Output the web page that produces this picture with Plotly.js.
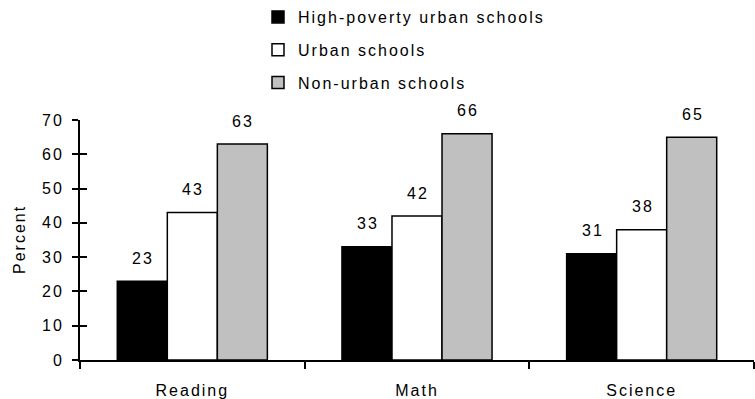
<!DOCTYPE html>
<html>
<head>
<meta charset="utf-8">
<script src="https://cdn.plot.ly/plotly-3.0.1.min.js"></script>
<style>
  html, body { margin: 0; padding: 0; background: #fff; }
  #chart { width: 755px; height: 399px; }
  svg text { letter-spacing: 2px; }
</style>
</head>
<body>
<div id="chart"></div>
<script>
// ---- Data ----
const categories = ['Reading', 'Math', 'Science'];
const seriesNames = ['High-poverty urban schools', 'Urban schools', 'Non-urban schools'];
const highPovertyUrban = [23, 33, 31];
const urban = [43, 42, 38];
const nonUrban = [63, 66, 65];
const yTicks = [0, 10, 20, 30, 40, 50, 60, 70];
const yTitle = 'Percent';

// ---- Styles ----
const FONT = 'Arial, "Liberation Sans", sans-serif';
const FS = 16;
const fills = ['#000000', '#ffffff', '#c0c0c0'];
const seriesValues = [highPovertyUrban, urban, nonUrban];
const labelShift = [-50, 0, 50];

const traces = seriesValues.map((vals, i) => ({
  type: 'bar',
  name: seriesNames[i],
  x: categories,
  y: vals,
  legendgroup: 'g' + i,
  marker: { color: fills[i], line: { color: '#000', width: 1.5 } },
  hoverinfo: 'skip'
}));

const annotations = [];
seriesValues.forEach((vals, i) => {
  vals.forEach((v, j) => {
    annotations.push({
      x: categories[j], y: v, xref: 'x', yref: 'y',
      text: String(v), showarrow: false,
      xshift: labelShift[i] + 1, yshift: 23, yanchor: 'middle',
      font: { family: FONT, size: FS, color: '#000' }
    });
  });
});
// y-axis title drawn as rotated text left of the tick labels
annotations.push({
  x: (19 - 80) / 674, y: 0.5, xref: 'paper', yref: 'paper',
  text: yTitle, showarrow: false, textangle: -90,
  xanchor: 'center', yanchor: 'middle',
  font: { family: FONT, size: FS, color: '#000' }
});

const layout = {
  width: 755, height: 399,
  margin: { l: 80, r: 1, t: 120, b: 39, autoexpand: false },
  paper_bgcolor: '#fff', plot_bgcolor: '#fff',
  font: { family: FONT, size: FS, color: '#000' },
  barmode: 'group',
  bargap: 0.332,
  bargroupgap: 0,
  showlegend: true,
  legend: {
    x: 258 / 755, xref: 'container', xanchor: 'left',
    y: 1, yref: 'container', yanchor: 'top',
    orientation: 'v', traceorder: 'grouped',
    tracegroupgap: 9,
    font: { family: FONT, size: FS, color: '#000' },
    bgcolor: 'rgba(0,0,0,0)'
  },
  xaxis: {
    type: 'category',
    showgrid: false, zeroline: false,
    showline: true, linecolor: '#000', linewidth: 2,
    ticks: 'outside', tickson: 'boundaries', ticklen: 7, tickwidth: 2, tickcolor: '#000',
    ticklabelstandoff: 15,
    tickfont: { family: FONT, size: FS, color: '#000' },
    fixedrange: true
  },
  yaxis: {
    range: [0, 70],
    tickvals: yTicks,
    ticktext: yTicks.map(String),
    showgrid: false, zeroline: false,
    showline: true, linecolor: '#000', linewidth: 2,
    ticks: 'outside', ticklen: 6, tickwidth: 2, tickcolor: '#000',
    ticklabelstandoff: 5,
    tickfont: { family: FONT, size: FS, color: '#000' },
    fixedrange: true
  },
  yaxis2: {
    range: [0, 70],
    overlaying: 'y', anchor: 'x', side: 'left',
    tickvals: yTicks,
    showticklabels: false,
    showgrid: false, zeroline: false, showline: false,
    ticks: 'inside', ticklen: 7, tickwidth: 2, tickcolor: '#000',
    fixedrange: true
  },
  annotations: annotations
};

// invisible helper trace so the inside-tick overlay axis is drawn
traces.push({
  type: 'scatter', x: categories, y: highPovertyUrban, yaxis: 'y2',
  mode: 'markers', marker: { opacity: 0 }, showlegend: false, hoverinfo: 'skip'
});

Plotly.newPlot('chart', traces, layout, { displayModeBar: false, staticPlot: true });
</script>
</body>
</html>
